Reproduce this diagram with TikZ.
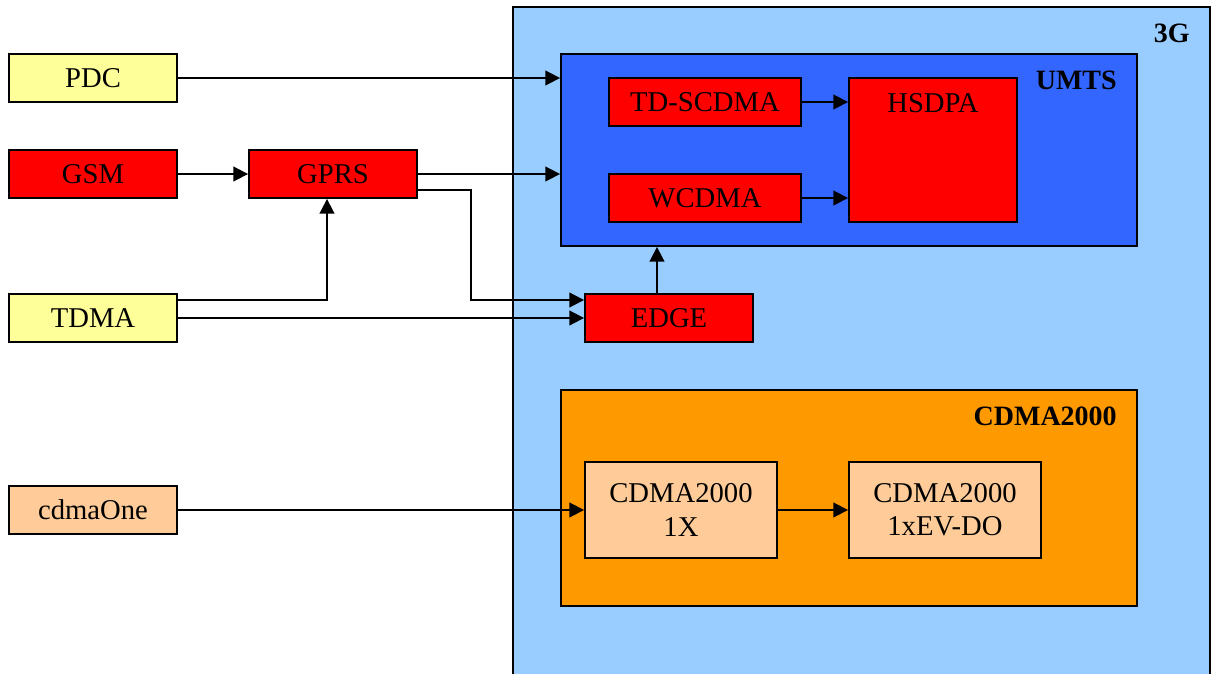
\documentclass[tikz,border=0pt]{standalone}
\usepackage{fontspec}
\setmainfont{Liberation Serif}
\usetikzlibrary{arrows.meta,calc}
\definecolor{cyel}{HTML}{FFFF99}
\definecolor{cred}{HTML}{FF0000}
\definecolor{clight}{HTML}{99CCFF}
\definecolor{cblue}{HTML}{3366FF}
\definecolor{corange}{HTML}{FF9900}
\definecolor{cpeach}{HTML}{FFCC99}
\begin{document}
\begin{tikzpicture}[x=0.75pt,y=-0.75pt,
  box/.style={draw=black, line width=1.4pt, inner sep=0pt, align=center,
    font=\fontsize{21.5}{24}\selectfont},
  arr/.style={-{Triangle[length=11pt,width=11pt]}, line width=1.4pt},
  ttl/.style={font=\bfseries\fontsize{21}{24}\selectfont, anchor=east, inner sep=0pt}]
\useasboundingbox (0,0) rectangle (1214,674);
\fill[white] (0,0) rectangle (1214,674);
\begin{scope}
\clip (0,0) rectangle (1214,674);
\node[box, fill=clight, minimum width=522.75pt, minimum height=519.75pt] (g3) at (861.5,353.5) {};
\end{scope}
\node[ttl] (g3t) at (1190,33) {3G};
% left column
\node[box, fill=cyel, minimum width=126pt, minimum height=36pt] (pdc) at (93,78) {PDC};
\node[box, fill=cred, minimum width=126pt, minimum height=36pt] (gsm) at (93,174) {GSM};
\node[box, fill=cyel, minimum width=126pt, minimum height=36pt] (tdma) at (93,318) {TDMA};
\node[box, fill=cpeach, minimum width=126pt, minimum height=36pt] (cdmaone) at (93,510) {cdmaOne};
\node[box, fill=cred, minimum width=126pt, minimum height=36pt] (gprs) at (333,174) {GPRS};
% UMTS
\node[box, fill=cblue, minimum width=432pt, minimum height=144pt] (umts) at (849,150) {};
\node[ttl] (umtst) at (1117,80) {UMTS};
\node[box, fill=cred, minimum width=144pt, minimum height=36pt] (tdscdma) at (705,102) {TD-SCDMA};
\node[box, fill=cred, minimum width=144pt, minimum height=36pt] (wcdma) at (705,198) {WCDMA};
\node[box, fill=cred, minimum width=126pt, minimum height=108pt,
  label={[anchor=north, inner sep=0pt, yshift=-12pt, font=\fontsize{21.5}{24}\selectfont]north:HSDPA}] (hsdpa) at (933,150) {};
\node[box, fill=cred, minimum width=126pt, minimum height=36pt] (edge) at (669,318) {EDGE};
% CDMA2000
\node[box, fill=corange, minimum width=432pt, minimum height=162pt] (cdma) at (849,498) {};
\node[ttl] (cdmat) at (1117,416) {CDMA2000};
\node[box, fill=cpeach, minimum width=144pt, minimum height=72pt, font=\fontsize{21.5}{25}\selectfont] (onex) at (681,510) {CDMA2000\\1X};
\node[box, fill=cpeach, minimum width=144pt, minimum height=72pt, font=\fontsize{21.5}{25}\selectfont] (evdo) at (945,510) {CDMA2000\\1xEV-DO};
% connectors
\draw[arr] (pdc.east) -- (pdc.east -| umts.west);
\draw[arr] (gsm) -- (gprs);
\draw[arr] (gprs.east) -- (gprs.east -| umts.west);
\draw[arr] ($(gprs.east)+(0,16)$) -- ++(53,0) |- ($(edge.west)+(0,-18)$);
\draw[arr] ($(tdma.east)+(0,-18)$) -| ($(gprs.south)+(-6,0)$);
\draw[arr] (tdma.east) -- (edge.west);
\draw[arr] ($(edge.north)+(-12,0)$) -- ($(edge.north |- umts.south)+(-12,0)$);
\draw[arr] (tdscdma) -- (tdscdma -| hsdpa.west);
\draw[arr] (wcdma) -- (wcdma -| hsdpa.west);
\draw[arr] (cdmaone) -- (onex);
\draw[arr] (onex) -- (evdo);
\end{tikzpicture}
\end{document}
